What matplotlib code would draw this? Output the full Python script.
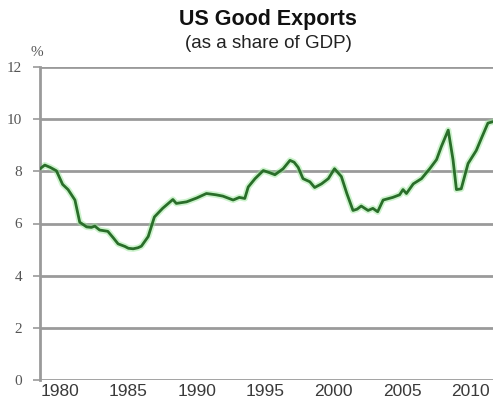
import matplotlib
matplotlib.use("Agg")
import matplotlib.pyplot as plt

# US goods exports, % of GDP
years = [1978.55, 1978.9, 1979.3, 1979.75, 1980.2, 1980.6, 1981.1, 1981.45, 1981.95, 1982.3,
         1982.55, 1982.9, 1983.5, 1983.9, 1984.25, 1984.75, 1985.0, 1985.35, 1985.7, 1985.95,
         1986.45, 1986.9, 1987.5, 1988.25, 1988.5, 1989.25, 1990.0, 1990.7, 1991.4, 1991.9,
         1992.65, 1993.1, 1993.5, 1993.75, 1994.25, 1994.85, 1995.3, 1995.7, 1996.3, 1996.8,
         1997.1, 1997.4, 1997.75, 1998.25, 1998.6, 1999.1, 1999.6, 2000.05, 2000.55, 2000.95,
         2001.4, 2001.7, 2002.0, 2002.5, 2002.85, 2003.2, 2003.6, 2004.3, 2004.8, 2005.05,
         2005.3, 2005.8, 2006.4, 2007.0, 2007.5, 2007.85, 2008.35, 2008.7, 2008.95, 2009.3,
         2009.8, 2010.4, 2010.8, 2011.25, 2011.6]
share = [8.1, 8.24, 8.15, 8.02, 7.5, 7.3, 6.9, 6.05, 5.87, 5.85,
         5.9, 5.75, 5.7, 5.45, 5.22, 5.12, 5.05, 5.03, 5.07, 5.13,
         5.5, 6.25, 6.58, 6.92, 6.77, 6.83, 6.98, 7.15, 7.1, 7.05,
         6.9, 7.0, 6.96, 7.4, 7.72, 8.03, 7.95, 7.87, 8.1, 8.42,
         8.35, 8.15, 7.72, 7.6, 7.38, 7.52, 7.72, 8.1, 7.8, 7.15,
         6.5, 6.55, 6.67, 6.5, 6.58, 6.45, 6.9, 7.0, 7.1, 7.3,
         7.15, 7.52, 7.72, 8.1, 8.45, 8.95, 9.58, 8.45, 7.3, 7.33,
         8.3, 8.8, 9.3, 9.85, 9.9]
xticks = [1980, 1985, 1990, 1995, 2000, 2005, 2010]
yticks = [0, 2, 4, 6, 8, 10, 12]

fig = plt.figure(figsize=(4.93, 4.05), dpi=100)
ax = fig.add_axes([40/493, 25/405, 453/493, 313/405])

grid_c = '#9a9a9a'
for y in yticks:
    ax.axhline(y, color=grid_c, lw=2, zorder=1)
ax.plot(years, share, color='#9be89b', lw=4.5, alpha=0.5, zorder=2)
ax.plot(years, share, color='#2a6e2a', lw=2, zorder=3)

ax.set_xlim(1978.55, 2011.62)
ax.set_ylim(0, 12)
ax.set_xticks(xticks)
ax.set_xticklabels([str(t) for t in xticks], fontfamily='Liberation Sans', fontsize=12.5, color='#3a3a3a')
ax.set_yticks(yticks)
ax.set_yticklabels([str(t) for t in yticks], fontfamily='Liberation Serif', fontsize=11, color='#555555')
ax.tick_params(axis='x', length=0, pad=3)
ax.tick_params(axis='y', length=5, width=1.2, color=grid_c, pad=8)
for s in ['top', 'right', 'bottom']:
    ax.spines[s].set_visible(False)
ax.spines['left'].set_color(grid_c)
ax.spines['left'].set_linewidth(2)

fig.text(268/493, 1 - 20/405, 'US Good Exports', ha='center', va='center',
         fontfamily='Liberation Sans', fontweight='bold', fontsize=15.5, color='#111111')
fig.text(268/493, 1 - 44/405, '(as a share of GDP)', ha='center', va='center',
         fontfamily='Liberation Sans', fontsize=13.5, color='#222222')
fig.text(37/493, 1 - 53/405, '%', ha='center', va='center',
         fontfamily='Liberation Serif', fontsize=11, color='#555555')

fig.savefig('out.png', dpi=100)
